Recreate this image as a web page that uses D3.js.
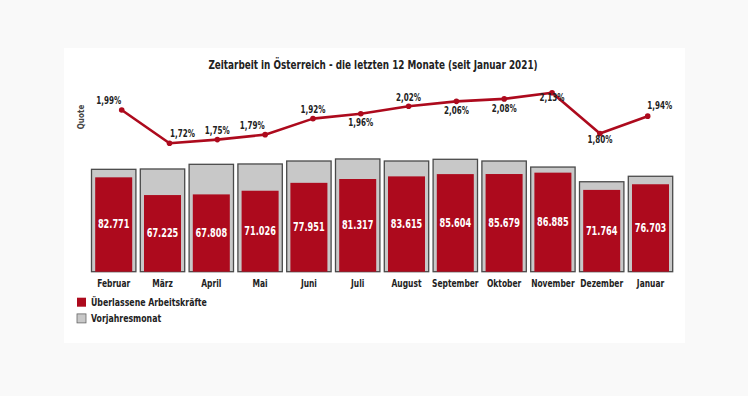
<!DOCTYPE html>
<html><head><meta charset="utf-8">
<script src="https://cdn.jsdelivr.net/npm/d3@7"></script>
<style>
html,body{margin:0;padding:0;background:#f9f9f9;}
svg{display:block;}
text{font-family:"DejaVu Sans Condensed","DejaVu Sans",sans-serif;font-weight:bold;}
</style></head>
<body>
<script>
const months = ["Februar","März","April","Mai","Juni","Juli","August","September","Oktober","November","Dezember","Januar"];
const workers = [82771,67225,67808,71026,77951,81317,83615,85604,85679,86885,71764,76703];
const previousYear = [89800,90100,94200,94500,97100,98900,97100,98600,97100,91800,78900,83700];
const quote = [1.99,1.72,1.75,1.79,1.92,1.96,2.02,2.06,2.08,2.13,1.80,1.94];
const title = "Zeitarbeit in Österreich - die letzten 12 Monate (seit Januar 2021)";
const legendLabels = ["Überlassene Arbeitskräfte","Vorjahresmonat"];
const quoteLabel = "Quote";

const W=748,H=396;
const svg=d3.select("body").append("svg").attr("width",W).attr("height",H);
svg.append("rect").attr("x",0).attr("y",0).attr("width",W).attr("height",H).attr("fill","#f9f9f9");
svg.append("rect").attr("x",64).attr("y",48).attr("width",621).attr("height",295).attr("fill","#ffffff");

const RED="#ad0a1d", GREY="#c8c8c8", DARK="#222";

// squeeze a text selection horizontally (around its anchor) to mimic a condensed face
function squeeze(sel,f){
  sel.each(function(){
    const t=d3.select(this);
    const x0=+t.attr("x")||0, y0=+t.attr("y")||0;
    t.attr("transform",`translate(${x0},${y0}) scale(${f},1) translate(${-x0},${-y0})`);
  });
}

squeeze(svg.append("text").attr("x",373).attr("y",65).attr("text-anchor","middle").attr("dominant-baseline","central")
  .attr("font-size",12).attr("fill",DARK).text(title),0.82);

// bars
const x=d3.scaleBand().domain(months).range([91.5,672.7]).paddingInner(0.09).paddingOuter(0);
const y=d3.scaleLinear().domain([0,100000]).range([271.7,157.7]);
const inset=3.7;

const g=svg.append("g");
g.selectAll("rect.prev").data(months).join("rect").attr("class","prev")
  .attr("x",d=>x(d)).attr("width",x.bandwidth())
  .attr("y",(d,i)=>y(previousYear[i])).attr("height",(d,i)=>y(0)-y(previousYear[i]))
  .attr("fill",GREY).attr("stroke","#4a4a4a").attr("stroke-width",1.3);
g.selectAll("rect.cur").data(months).join("rect").attr("class","cur")
  .attr("x",d=>x(d)+inset).attr("width",x.bandwidth()-2*inset)
  .attr("y",(d,i)=>y(workers[i])).attr("height",(d,i)=>y(0)-y(workers[i]))
  .attr("fill",RED);
const fmt=d3.formatLocale({decimal:",",thousands:".",grouping:[3],currency:["","€"]});
const fmtInt=fmt.format(",d");
squeeze(g.selectAll("text.val").data(months).join("text").attr("class","val")
  .attr("x",d=>x(d)+x.bandwidth()/2)
  .attr("y",(d,i)=>(y(workers[i])+y(0))/2)
  .attr("text-anchor","middle").attr("dominant-baseline","central")
  .attr("font-size",12).attr("fill","#fff").text((d,i)=>fmtInt(workers[i])),0.76);

// month axis
const xAxis=d3.axisBottom(x).tickSize(0).tickPadding(0);
const ax=svg.append("g").attr("transform","translate(0,276)").call(xAxis);
ax.select(".domain").remove();
ax.selectAll("text").attr("font-size",11).attr("fill",DARK).attr("dy","0.35em").attr("y",6.7)
  .attr("font-family",null);
squeeze(ax.selectAll("text"),0.76);

// line
const xl=d3.scalePoint().domain(months).range([121.7,647.7]).padding(0);
const yl=d3.scaleLinear().domain([1.6,2.2]).range([158.1,84.1]);
const line=d3.line().x((d,i)=>xl(months[i])).y(d=>yl(d));
svg.append("path").datum(quote).attr("d",line).attr("fill","none").attr("stroke",RED)
  .attr("stroke-width",2.6).attr("stroke-linejoin","round");
svg.selectAll("circle.pt").data(quote).join("circle").attr("class","pt")
  .attr("cx",(d,i)=>xl(months[i])).attr("cy",d=>yl(d)).attr("r",2.8).attr("fill",RED);
const labelOffsets=[[-13,-9],[13,-10],[0,-9],[-13,-9],[0,-9],[0,9],[0,-9],[0,9],[0,10],[0,5],[0,6],[12,-10]];
const fmtPct=fmt.format(".2f");
squeeze(svg.selectAll("text.pct").data(quote).join("text").attr("class","pct")
  .attr("x",(d,i)=>xl(months[i])+labelOffsets[i][0])
  .attr("y",(d,i)=>yl(d)+labelOffsets[i][1])
  .attr("text-anchor","middle").attr("dominant-baseline","central")
  .attr("font-size",10).attr("fill",DARK).text(d=>fmtPct(d)+"%"),0.8);

svg.append("text").attr("transform","translate(81,117) rotate(-90)")
  .attr("text-anchor","middle").attr("dominant-baseline","central")
  .attr("font-size",8).attr("font-weight","normal").attr("fill","#444").text(quoteLabel);

// legend
const leg=svg.append("g");
const legColors=[RED,GREY];
legendLabels.forEach((l,i)=>{
  const yy=302.2+i*16.2;
  leg.append("rect").attr("x",77).attr("y",yy-4.5).attr("width",9).attr("height",9)
    .attr("fill",legColors[i]).attr("stroke",i===1?"#666":"none").attr("stroke-width",0.8);
  squeeze(leg.append("text").attr("x",91).attr("y",yy).attr("dominant-baseline","central")
    .attr("font-size",11).attr("fill",DARK).text(l),0.79);
});
</script>
</body></html>
